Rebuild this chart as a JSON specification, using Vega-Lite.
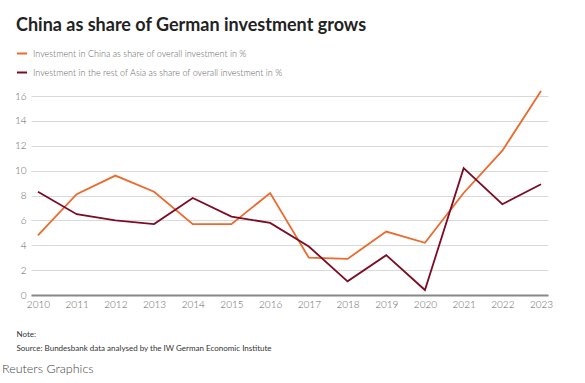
{
  "$schema": "https://vega.github.io/schema/vega-lite/v6.json",
  "autosize": {"type": "none"},
  "width": 517,
  "height": 199,
  "padding": {"left": 31, "top": 96, "right": 37, "bottom": 88},
  "background": "white",
  "title": {
    "text": "Reuters Graphics",
    "orient": "bottom",
    "anchor": "start",
    "frame": "group",
    "dx": -29,
    "offset": 11,
    "font": "Lato",
    "fontSize": 12.5,
    "fontWeight": 300,
    "color": "#444"
  },
  "data": {
    "values": [
      {"year": "2010", "series": "Investment in China as share of overall investment in %", "value": 4.8},
      {"year": "2011", "series": "Investment in China as share of overall investment in %", "value": 8.1},
      {"year": "2012", "series": "Investment in China as share of overall investment in %", "value": 9.6},
      {"year": "2013", "series": "Investment in China as share of overall investment in %", "value": 8.3},
      {"year": "2014", "series": "Investment in China as share of overall investment in %", "value": 5.7},
      {"year": "2015", "series": "Investment in China as share of overall investment in %", "value": 5.7},
      {"year": "2016", "series": "Investment in China as share of overall investment in %", "value": 8.2},
      {"year": "2017", "series": "Investment in China as share of overall investment in %", "value": 3.0},
      {"year": "2018", "series": "Investment in China as share of overall investment in %", "value": 2.9},
      {"year": "2019", "series": "Investment in China as share of overall investment in %", "value": 5.1},
      {"year": "2020", "series": "Investment in China as share of overall investment in %", "value": 4.2},
      {"year": "2021", "series": "Investment in China as share of overall investment in %", "value": 8.2},
      {"year": "2022", "series": "Investment in China as share of overall investment in %", "value": 11.6},
      {"year": "2023", "series": "Investment in China as share of overall investment in %", "value": 16.4},
      {"year": "2010", "series": "Investment in the rest of Asia as share of overall investment in %", "value": 8.3},
      {"year": "2011", "series": "Investment in the rest of Asia as share of overall investment in %", "value": 6.5},
      {"year": "2012", "series": "Investment in the rest of Asia as share of overall investment in %", "value": 6.0},
      {"year": "2013", "series": "Investment in the rest of Asia as share of overall investment in %", "value": 5.7},
      {"year": "2014", "series": "Investment in the rest of Asia as share of overall investment in %", "value": 7.8},
      {"year": "2015", "series": "Investment in the rest of Asia as share of overall investment in %", "value": 6.3},
      {"year": "2016", "series": "Investment in the rest of Asia as share of overall investment in %", "value": 5.8},
      {"year": "2017", "series": "Investment in the rest of Asia as share of overall investment in %", "value": 3.9},
      {"year": "2018", "series": "Investment in the rest of Asia as share of overall investment in %", "value": 1.1},
      {"year": "2019", "series": "Investment in the rest of Asia as share of overall investment in %", "value": 3.2},
      {"year": "2020", "series": "Investment in the rest of Asia as share of overall investment in %", "value": 0.4},
      {"year": "2021", "series": "Investment in the rest of Asia as share of overall investment in %", "value": 10.2},
      {"year": "2022", "series": "Investment in the rest of Asia as share of overall investment in %", "value": 7.3},
      {"year": "2023", "series": "Investment in the rest of Asia as share of overall investment in %", "value": 8.9}
    ]
  },
  "mark": {"type": "line", "strokeWidth": 1.8, "clip": false},
  "encoding": {
    "x": {
      "field": "year",
      "type": "ordinal",
      "scale": {"type": "point", "padding": 0.18},
      "axis": {
        "title": ["Note:", "Source: Bundesbank data analysed by the IW German Economic Institute"],
        "titleAnchor": "start",
        "titleAlign": "left",
        "titleBaseline": "top",
        "titleX": -15,
        "titleY": 35,
        "titleFont": "Lato",
        "titleFontSize": 8,
        "titleFontWeight": "normal",
        "titleColor": "#333",
        "titleLineHeight": 14,
        "labelAngle": 0,
        "labelFont": "Lato",
        "labelFontSize": 10,
        "labelFontWeight": 300,
        "labelColor": "#666",
        "labelPadding": 4,
        "ticks": false,
        "domainColor": "#888",
        "domainWidth": 2,
        "grid": false
      }
    },
    "y": {
      "field": "value",
      "type": "quantitative",
      "scale": {"domain": [0, 16]},
      "axis": {
        "title": null,
        "values": [0, 2, 4, 6, 8, 10, 12, 14, 16],
        "labelFont": "Lato",
        "labelFontSize": 10,
        "labelFontWeight": 300,
        "labelColor": "#666",
        "labelPadding": 5,
        "ticks": false,
        "domain": false,
        "gridColor": "#d9d9d9",
        "gridWidth": 1
      }
    },
    "color": {
      "field": "series",
      "type": "nominal",
      "scale": {
        "domain": [
          "Investment in China as share of overall investment in %",
          "Investment in the rest of Asia as share of overall investment in %"
        ],
        "range": ["#ec6a2c", "#7c0b24"]
      },
      "legend": {
        "title": "China as share of German investment grows",
        "orient": "none",
        "legendX": -15,
        "legendY": -79.5,
        "direction": "vertical",
        "titleFont": "Lato",
        "titleFontSize": 18,
        "titleFontWeight": "bold",
        "titleColor": "#222",
        "titleBaseline": "top",
        "titlePadding": 13,
        "titleLimit": 600,
        "labelFont": "Lato",
        "labelFontSize": 9,
        "labelFontWeight": 300,
        "labelColor": "#666",
        "labelLimit": 500,
        "labelOffset": 5,
        "symbolType": "stroke",
        "symbolSize": 100,
        "symbolStrokeWidth": 2,
        "rowPadding": 8,
        "padding": 0
      }
    }
  },
  "config": {"view": {"stroke": null}}
}
